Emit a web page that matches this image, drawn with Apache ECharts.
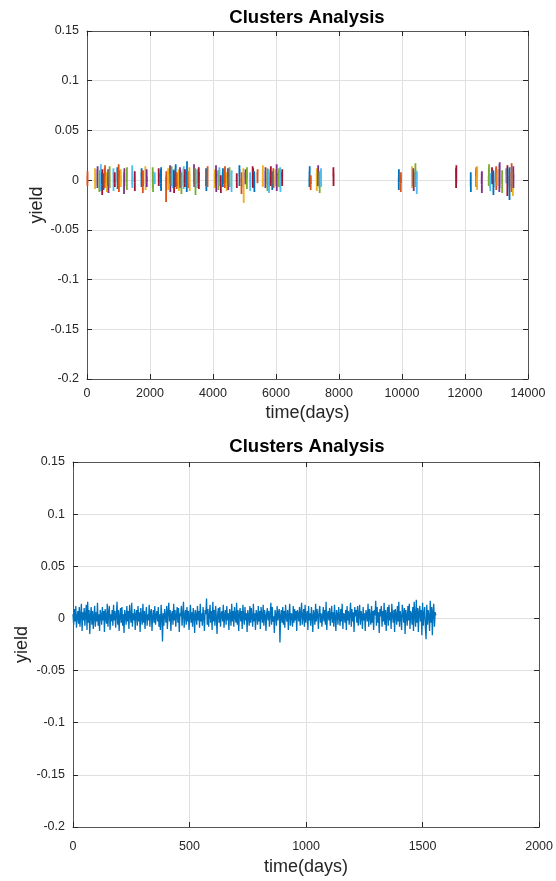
<!DOCTYPE html>
<html>
<head>
<meta charset="utf-8">
<script src="https://cdn.jsdelivr.net/npm/echarts/dist/echarts.min.js"></script>
<style>
  html, body { margin: 0; padding: 0; background: #ffffff; }
  #chart { width: 556px; height: 881px; }
</style>
</head>
<body>
<div id="chart"></div>
<script>
// Day on which each cluster begins (upper panel x position)
const clusterStartDays = [
  10, 254, 328, 392, 434, 476, 519, 561, 624, 667,
  709, 836, 878, 963, 1005, 1069, 1175, 1259, 1429, 1513,
  1725, 1767, 1852, 1894, 2085, 2148, 2275, 2339, 2508, 2571,
  2635, 2677, 2720, 2762, 2804, 2847, 2910, 2952, 2995, 3058,
  3101, 3164, 3206, 3249, 3397, 3439, 3503, 3545, 3778, 3820,
  4053, 4095, 4159, 4201, 4244, 4307, 4371, 4434, 4476, 4519,
  4582, 4751, 4836, 4899, 4963, 5026, 5069, 5175, 5259, 5302,
  5407, 5577, 5661, 5725, 5767, 5831, 5873, 5915, 5979, 6021,
  6085, 6127, 6190, 7058, 7101, 7291, 7333, 7375, 7418, 7820,
  9895, 9958, 10317, 10360, 10423, 10466, 11714, 12180, 12349, 12381,
  12529, 12751, 12794, 12857, 12899, 12984, 13026, 13090, 13175, 13302,
  13344, 13407, 13471, 13513, 13534
];

// Number of samples belonging to each cluster
const clusterSampleCounts = [
  4, 5, 4, 6, 3, 5, 4, 5, 4, 6,
  5, 4, 3, 5, 6, 4, 5, 4, 5, 3,
  4, 6, 5, 4, 5, 3, 4, 6, 5, 4,
  5, 4, 6, 3, 5, 4, 5, 5, 4, 6,
  4, 5, 3, 5, 4, 6, 4, 5, 5, 4,
  6, 4, 5, 4, 3, 5, 6, 4, 5, 4,
  5, 3, 4, 6, 5, 4, 5, 4, 6, 5,
  4, 5, 5, 4, 6, 3, 5, 4, 5, 4,
  5, 6, 4, 5, 4, 5, 3, 5, 6, 4,
  4, 5, 4, 6, 5, 4, 5, 3, 5, 4,
  4, 5, 4, 3, 5, 4, 4, 5, 3, 4,
  4, 5, 4, 4, 4
];

// Days between consecutive samples
const sampleStepDays = 3;

// Yield samples, all clusters back to back, in thousandths
const yieldPerMille = [
  4, -6, 9, -3, 12, -9, 2, 7, -5, 11,
  -8, 3, 14, -12, 6, -2, 10, -7, 4, 13,
  -11, 16, -4, 8, -15, 3, 11, -6, 7, -10,
  2, 12, -8, 6, -3, 15, -7, 4, -12, 8,
  3, -6, 11, -2, 7, -13, 9, 1, -5, 14,
  -8, 6, 12, -11, 4, -3, 8, -7, 13, -2,
  7, -9, 3, 16, -6, 8, -12, 2, 10, -4,
  11, -7, 4, -14, 8, 3, -6, 12, -3, 7,
  -10, 13, 2, -4, 15, -8, 5, -2, 9, -11,
  4, 8, -7, 12, -3, 6, -13, 10, 1, -6,
  14, -4, 7, -10, 3, 11, -7, 4, -2, 13,
  -8, 6, 9, -12, 2, 8, -4, 12, -6, 3,
  7, -3, 11, -8, 4, -11, 13, 3, -22, 5,
  -7, 9, 2, -4, 12, -10, 6, 15, -3, 8,
  -12, 4, 7, -6, 14, -2, 8, -8, 3, 11,
  -4, 10, -13, 5, 2, 12, -7, 4, 16, -9,
  3, 8, -6, 11, -3, 7, -11, 2, 13, -4,
  6, -8, 10, 3, -14, 8, 4, -6, 12, -2,
  7, -9, 14, -3, 5, -7, 11, 2, -12, 8,
  4, 19, -6, 9, -8, 3, 13, -4, 7, -11,
  16, -3, 8, -7, 12, 2, -15, 5, 10, -4,
  11, -8, 4, 7, -3, 13, -9, 3, 8, -6,
  12, -2, 5, -11, 9, 4, -7, 14, -3, 7,
  -8, 11, 2, -4, 15, -6, 8, -12, 4, 10,
  -3, 7, -10, 13, 2, -6, 11, -2, 5, -13,
  8, 3, -7, 12, -4, 10, 1, -8, 14, -3,
  5, -11, 8, 4, -6, 12, -3, 7, -10, 11,
  2, -4, 13, -7, 8, 3, -12, 5, 10, -2,
  7, -8, 4, 15, -6, 11, -3, 2, -14, 8,
  4, -7, 12, -2, 6, 9, -23, 3, 8, -4,
  11, -6, 7, -9, 13, 2, -3, 8, -11, 4,
  14, -7, 5, 3, -8, 12, -4, 9, -2, 7,
  -12, 8, 4, -3, 11, -7, 5, 15, -6, 2,
  9, -8, 13, -4, 3, 7, -11, 12, -2, 5,
  -7, 11, 2, -13, 8, 4, -6, 14, -3, 9,
  3, -10, 7, 12, -4, 5, -8, 2, 11, -3,
  8, -6, 16, -11, 4, 7, -2, 10, -7, 3,
  12, -4, 6, -8, 13, 1, -12, 8, 4, -6,
  11, 2, -7, 9, -3, 14, -10, 5, 3, -4,
  8, -11, 12, -2, 7, -6, 4, 15, -8, 9,
  -3, 6, -13, 11, 2, 8, -4, 12, -7, 4,
  13, -6, 7, 3, -10, 11, -2, 5, -12, 8,
  4, -3, 14, -8, 9, 2, -6, 12, -4, 7,
  -11, 8, 3, 17, -7, 11, -4, 6, -14, 9,
  2, 12, -8, 7, -3, 15, -6, 8, -12, 4,
  11, -7, 13, -2, 6, -10, 14, 3, -4, 8,
  -13, 9, 4, -6, 12, -3, 16, -8, 7, 2,
  -11, 13, 5, -4, 10, -15, 8, 3, -7, 12,
  -2, 14, -10, 7, 4, -6, 11, -12, 16, 3,
  -8, 18, -4, 10, -13, 6, 12, -3, 8, -16,
  15, -7, 4, 11, -9, -20, 13, -6, 8, 2,
  -12, 17, -4, 11, -16, 7, 14, -8, 6, 3
];

// Axis settings
const chartTitle = 'Clusters Analysis';
const xAxisTitle = 'time(days)';
const yAxisTitle = 'yield';
const yMin = -0.2, yMax = 0.15, yStep = 0.05;
const topXMax = 14000, topXStep = 2000;
const bottomXMax = 2000, bottomXStep = 500;

// Line colour order
const lineColors = ['#0072BD', '#D95319', '#EDB120', '#7E2F8E', '#77AC30', '#4DBEEE', '#A2142F'];

const FONT = "'Liberation Sans', Arial, Helvetica, sans-serif";
const INK = '#262626';
const FRAME = '#555555';
const GRIDLINE = '#e0e0e0';

const yields = yieldPerMille.map(v => v / 1000);

// Upper panel: every cluster drawn at its own dates
let cursor = 0;
const clusterSeries = clusterStartDays.map((start, k) => {
  const n = clusterSampleCounts[k];
  const pts = yields.slice(cursor, cursor + n).map((y, j) => [start + j * sampleStepDays, y]);
  cursor += n;
  return {
    type: 'line',
    xAxisIndex: 0,
    yAxisIndex: 0,
    data: pts,
    showSymbol: false,
    symbol: 'none',
    silent: true,
    lineStyle: { width: 1.8, color: lineColors[(k + 1) % lineColors.length] }
  };
});

// Lower panel: clusters joined end to end
const joinedSeries = {
  type: 'line',
  xAxisIndex: 2,
  yAxisIndex: 2,
  data: yields.map((y, i) => [i * sampleStepDays, y]),
  showSymbol: false,
  symbol: 'none',
  silent: true,
  lineStyle: { width: 1.3, color: lineColors[0] }
};

const yLabel = v => String(+v.toFixed(2));

function xAxisPair(gridIndex, max, step, labelMargin, nameGap) {
  const common = {
    type: 'value', gridIndex, min: 0, max, interval: step,
    axisLine: { show: true, onZero: false, lineStyle: { color: FRAME, width: 1 } },
    axisTick: { show: true, inside: true, length: 5, lineStyle: { color: INK } }
  };
  return [
    Object.assign({}, common, {
      position: 'bottom',
      name: xAxisTitle, nameLocation: 'middle', nameGap, nameMoveOverlap: false,
      nameTextStyle: { fontFamily: FONT, fontSize: 18, color: INK },
      axisLabel: { show: true, margin: labelMargin, fontFamily: FONT, fontSize: 12.5, color: INK, formatter: v => String(v) },
      splitLine: { show: true, lineStyle: { color: GRIDLINE, width: 1 } }
    }),
    Object.assign({}, common, {
      position: 'top',
      axisLabel: { show: false },
      splitLine: { show: false }
    })
  ];
}

function yAxisPair(gridIndex, nameGap) {
  const common = {
    type: 'value', gridIndex, min: yMin, max: yMax, interval: yStep,
    axisLine: { show: true, onZero: false, lineStyle: { color: FRAME, width: 1 } },
    axisTick: { show: true, inside: true, length: 5, lineStyle: { color: INK } }
  };
  return [
    Object.assign({}, common, {
      position: 'left',
      name: yAxisTitle, nameLocation: 'middle', nameGap, nameMoveOverlap: false,
      nameTextStyle: { fontFamily: FONT, fontSize: 18, color: INK },
      axisLabel: { show: true, margin: 8, fontFamily: FONT, fontSize: 12.5, color: INK, formatter: yLabel },
      splitLine: { show: true, lineStyle: { color: GRIDLINE, width: 1 } }
    }),
    Object.assign({}, common, {
      position: 'right',
      axisLabel: { show: false },
      splitLine: { show: false }
    })
  ];
}

const chart = echarts.init(document.getElementById('chart'), null, { renderer: 'canvas' });
chart.setOption({
  animation: false,
  backgroundColor: '#ffffff',
  title: [
    { text: chartTitle, left: 307, top: 8, textAlign: 'center', padding: 0,
      textStyle: { fontFamily: FONT, fontSize: 18.5, fontWeight: 'bold', color: '#000000' } },
    { text: chartTitle, left: 307, top: 437, textAlign: 'center', padding: 0,
      textStyle: { fontFamily: FONT, fontSize: 18.5, fontWeight: 'bold', color: '#000000' } }
  ],
  grid: [
    { left: 87, top: 31, width: 441, height: 348 },
    { left: 73, top: 462, width: 468, height: 365 }
  ],
  xAxis: [...xAxisPair(0, topXMax, topXStep, 8, 25), ...xAxisPair(1, bottomXMax, bottomXStep, 13, 31)],
  yAxis: [...yAxisPair(0, 41), ...yAxisPair(1, 42)],
  series: [...clusterSeries, joinedSeries]
});
</script>
</body>
</html>
